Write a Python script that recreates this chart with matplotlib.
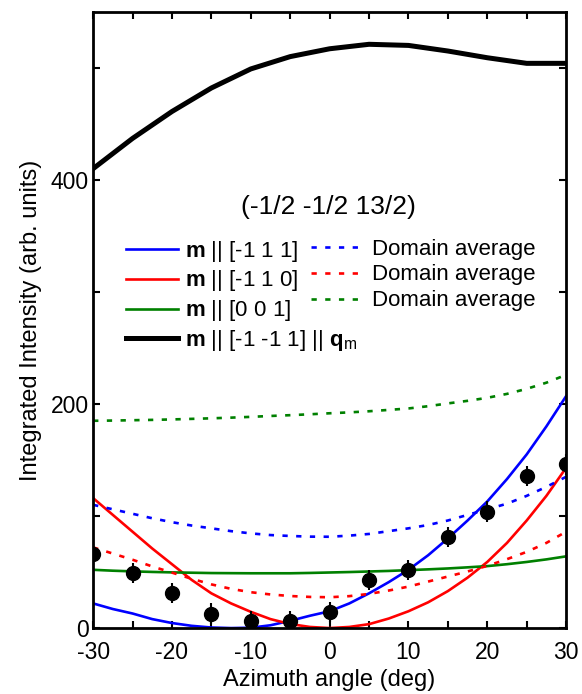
import numpy as np
import matplotlib
matplotlib.use('Agg')
import matplotlib.pyplot as plt

plt.rcParams['font.family'] = ['Liberation Sans', 'DejaVu Sans']
plt.rcParams['mathtext.fontset'] = 'custom'
plt.rcParams['mathtext.rm'] = 'Liberation Sans'
plt.rcParams['mathtext.bf'] = 'Liberation Sans:bold'
plt.rcParams['mathtext.it'] = 'Liberation Sans:italic'

# Azimuth angles for the data points and the black (m || q_m) curve
angle_pts = [-30, -25, -20, -15, -10, -5, 0, 5, 10, 15, 20, 25, 30]
intensity_pts = [66, 49, 31, 13, 6, 6.5, 14.5, 43, 52, 81.5, 104, 135.5, 146]
intensity_err = [9, 9, 9, 9, 9, 9, 9, 9, 9, 9, 9, 9, 9]
black_qm = [410, 437, 461, 482, 499, 510, 517, 521, 520, 515, 509, 504, 504]

# Calculated curves (read every 2.5 deg)
angle_calc = [-30, -27.5, -25, -22.5, -20, -17.5, -15, -12.5, -10, -7.5, -5, -2.5, 0,
              2.5, 5, 7.5, 10, 12.5, 15, 17.5, 20, 22.5, 25, 27.5, 30]
blue_111 = [22, 17, 13, 8, 4.5, 2, 0.5, 0, 0.3, 2.5, 6.5, 11, 15,
            22, 31, 41, 52, 65, 80, 96, 113, 133, 155, 180, 207]
red_110 = [116, 101, 86, 71, 57, 43, 31, 22, 14.5, 8, 3.6, 1, 0,
           1, 3.5, 8.5, 15, 23, 33, 45, 59, 76, 96, 118, 143]
green_001 = [52, 51.2, 50.6, 50.1, 49.7, 49.4, 49.1, 49, 48.9, 48.9, 48.9, 49.2, 49.6,
             50, 50.5, 51, 51.7, 52.4, 53.2, 54.2, 55.3, 57, 59, 61.3, 64]
blue_avg = [110, 106, 102, 98, 94.5, 91.5, 89, 86.5, 84.5, 83, 82.2, 81.6, 81.5,
            82.5, 84, 86.5, 89, 92, 96, 101, 106, 111, 118, 126, 135]
red_avg = [72, 66.5, 61, 55, 49.5, 44, 39, 35, 32, 30, 28.6, 27.8, 27.5,
           28.5, 30.5, 33.5, 37, 41.5, 46, 50.5, 55.5, 61.5, 68, 76, 86]
green_avg = [185, 185.2, 185.5, 185.8, 186.2, 186.7, 187.2, 187.8, 188.5, 189.3, 190, 190.8, 191.7,
             192.5, 193.5, 194.7, 196, 198, 200.5, 202.8, 205.5, 209, 213.5, 219, 226]

x_ticks = list(range(-30, 31, 5))
x_labels = ['-30', '', '-20', '', '-10', '', '0', '', '10', '', '20', '', '30']
y_ticks = [0, 100, 200, 300, 400, 500]
y_labels = ['0', '', '200', '', '400', '']

fig = plt.figure(figsize=(5.82, 6.94), dpi=100)
ax = fig.add_axes([0.16, 0.095, 0.8127, 0.888])

dots = (0, (2, 3.2))
l1, = ax.plot(angle_calc, blue_111, color='blue', lw=1.9)
l2, = ax.plot(angle_calc, red_110, color='red', lw=1.9)
l3, = ax.plot(angle_calc, green_001, color='green', lw=1.9)
l4, = ax.plot(angle_pts, black_qm, color='black', lw=3.6)
d1, = ax.plot(angle_calc, blue_avg, color='blue', lw=1.9, linestyle=dots)
d2, = ax.plot(angle_calc, red_avg, color='red', lw=1.9, linestyle=dots)
d3, = ax.plot(angle_calc, green_avg, color='green', lw=1.9, linestyle=dots)

ax.errorbar(angle_pts, intensity_pts, yerr=intensity_err, fmt='o', color='black',
            markersize=10, elinewidth=1.5, capsize=0, zorder=5)

ax.set_xlim(-30, 30)
ax.set_ylim(0, 550)
ax.set_xticks(x_ticks)
ax.set_xticklabels(x_labels)
ax.set_yticks(y_ticks)
ax.set_yticklabels(y_labels)
ax.tick_params(direction='in', top=True, right=True, length=5, width=1.5,
               labelsize=16.5)
ax.tick_params(axis='x', pad=9)
ax.tick_params(axis='y', pad=3)
for s in ax.spines.values():
    s.set_linewidth(2)

ax.set_xlabel('Azimuth angle (deg)', fontsize=17, labelpad=4)
ax.set_ylabel('Integrated Intensity (arb. units)', fontsize=17, labelpad=6)

ax.text(0.497, 0.683, '(-1/2 -1/2 13/2)', transform=ax.transAxes,
        ha='center', va='center', fontsize=19)

leg1 = ax.legend([l1, l2, l3, l4],
                 [r'$\mathbf{m}$ || [-1 1 1]', r'$\mathbf{m}$ || [-1 1 0]',
                  r'$\mathbf{m}$ || [0 0 1]',
                  r'$\mathbf{m}$ || [-1 -1 1] || $\mathbf{q}_\mathrm{m}$'],
                 loc='upper left', bbox_to_anchor=(0.0698, 0.632), frameon=False,
                 fontsize=16, handlelength=2.32, handletextpad=0.32,
                 labelspacing=0.22, borderpad=0, borderaxespad=0)
ax.add_artist(leg1)
ax.legend([d1, d2, d3], ['Domain average'] * 3,
          loc='upper left', bbox_to_anchor=(0.461, 0.632), frameon=False,
          fontsize=16, handlelength=2.32, handletextpad=0.41,
          labelspacing=0.22, borderpad=0, borderaxespad=0)

plt.savefig('out.png', dpi=100)
